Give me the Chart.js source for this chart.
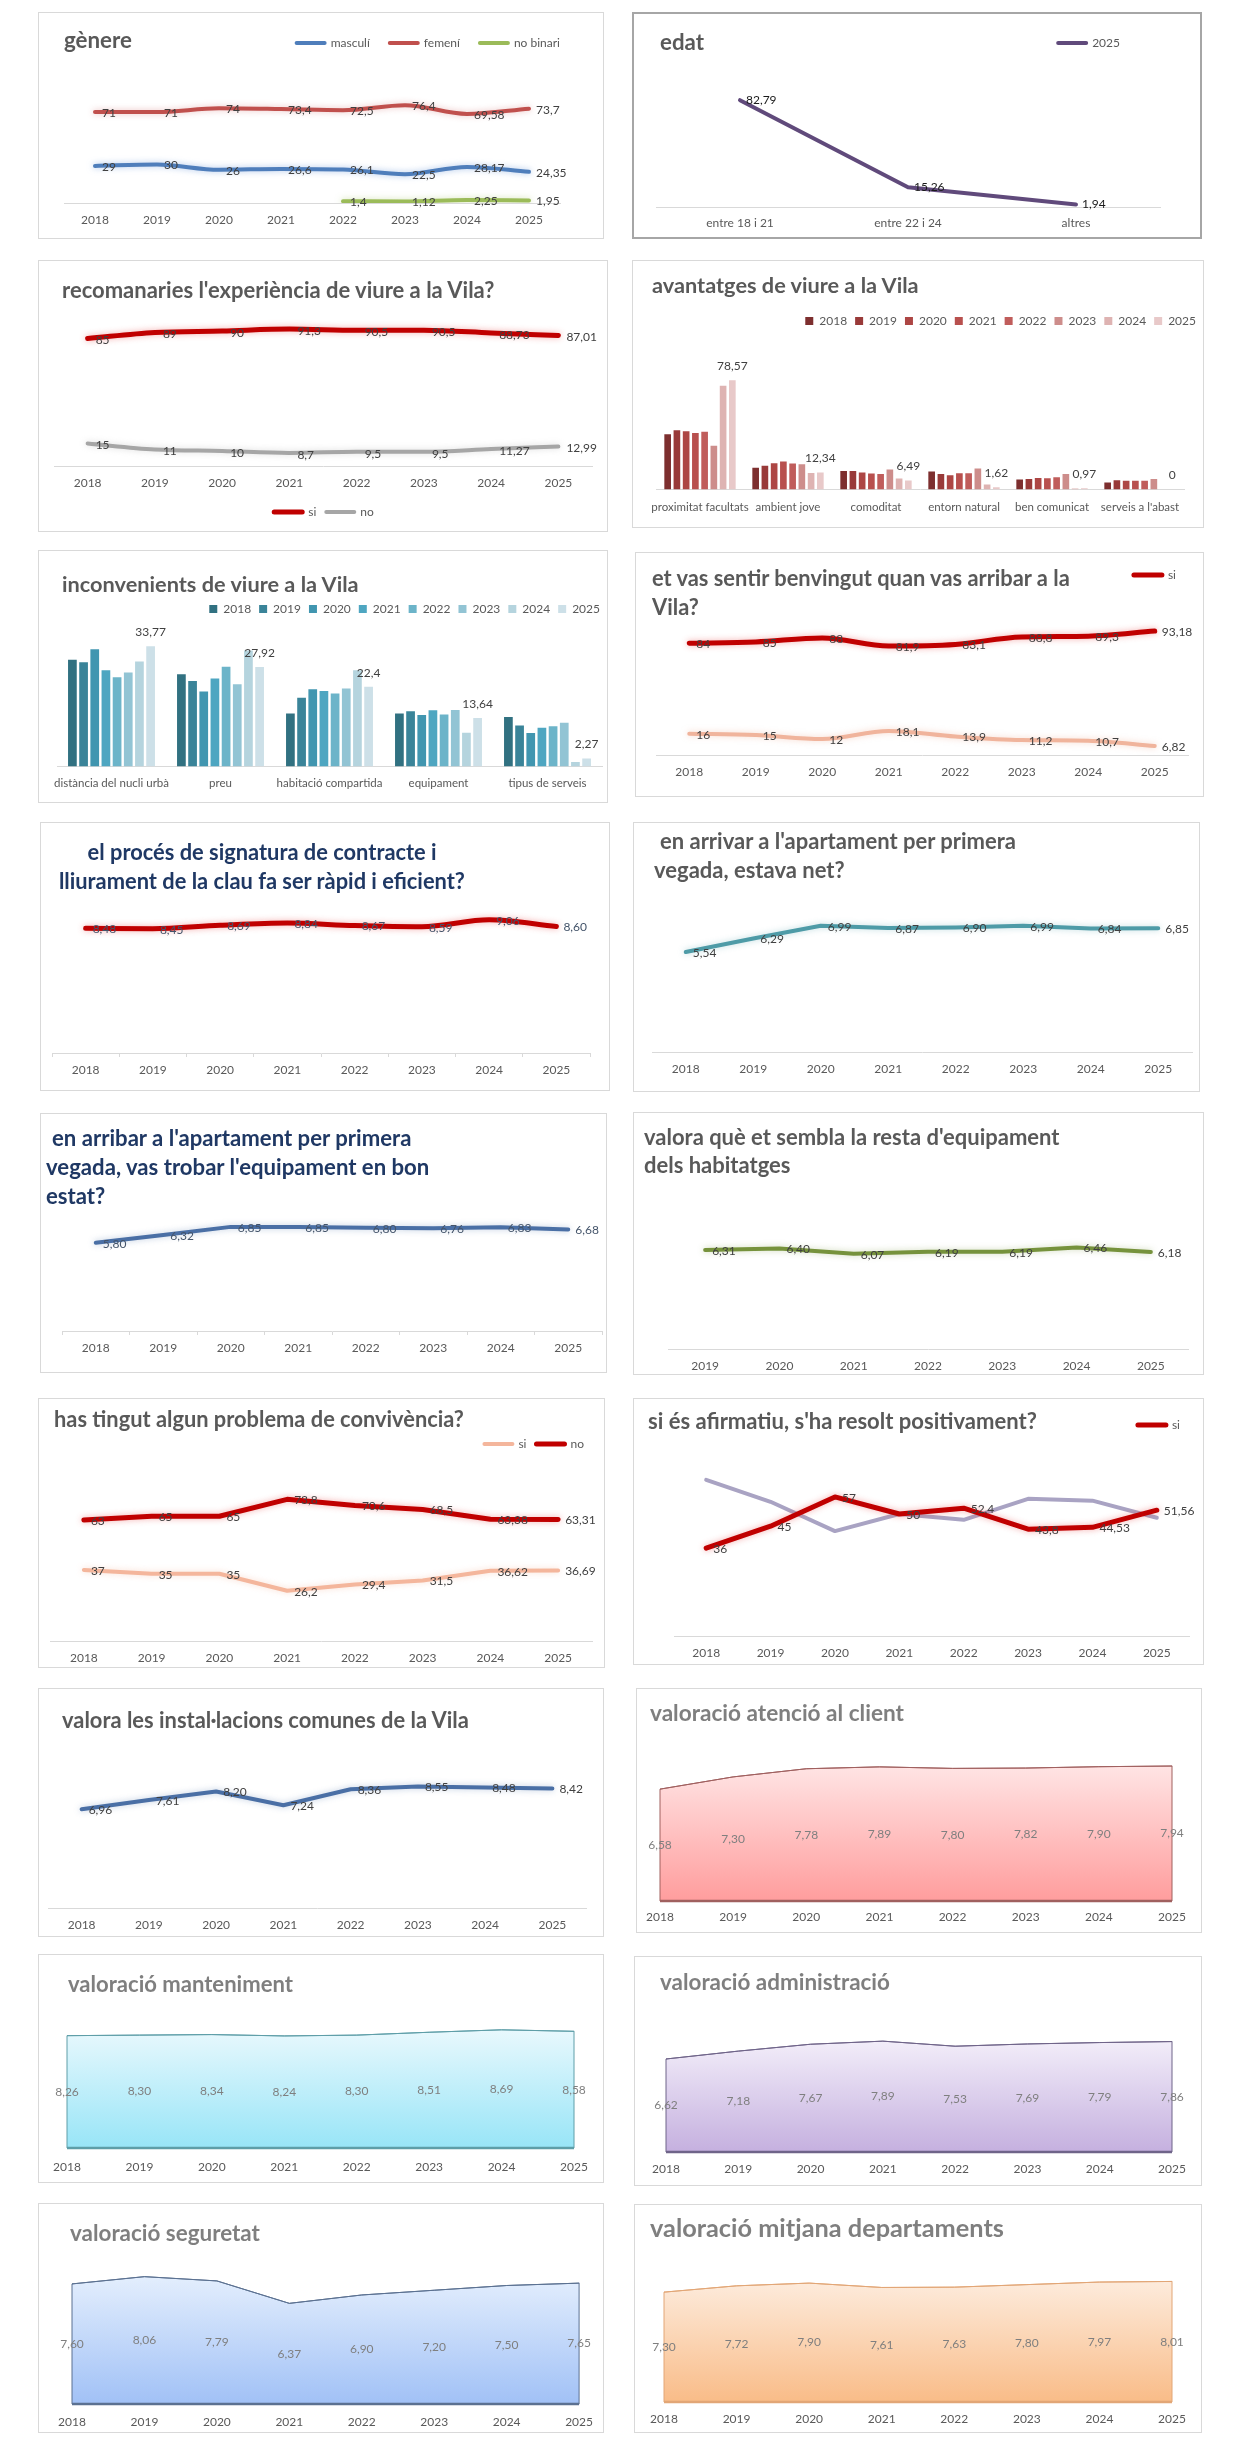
<!DOCTYPE html>
<html><head><meta charset="utf-8">
<script src="https://cdn.jsdelivr.net/npm/chart.js@4.4.1/dist/chart.umd.min.js"></script>
<style>
html,body{margin:0;padding:0;background:#fff;}
body{position:relative;width:1241px;height:2445px;overflow:hidden;font-family:Lato,"Open Sans",sans-serif;}
.panel{position:absolute;box-sizing:border-box;border:1px solid #d9d9d9;background:#fff;}
canvas{position:absolute;}
.ttl{position:absolute;white-space:pre;font-weight:700;font-family:Lato,sans-serif;}
</style></head><body>
<script>
// ---------------- DATA ----------------
const years = ['2018','2019','2020','2021','2022','2023','2024','2025'];
const years19 = ['2019','2020','2021','2022','2023','2024','2025'];

const genereMasculi = [29,30,26,26.6,26.1,22.5,28.17,24.35];
const genereFemeni = [71,71,74,73.4,72.5,76.4,69.58,73.7];
const genereNoBinari = [null,null,null,null,1.4,1.12,2.25,1.95];

const edatCats = ['entre 18 i 21','entre 22 i 24','altres'];
const edat2025 = [82.79,15.26,1.94];

const recomSi = [85,89,90,91.3,90.5,90.5,88.73,87.01];
const recomNo = [15,11,10,8.7,9.5,9.5,11.27,12.99];

const avantCats = ['proximitat facultats','ambient jove','comoditat','entorn natural','ben comunicat',"serveis a l'abast"];
const avant2018 = [39.8,15.7,13.3,13.0,7.2,5.1];
const avant2019 = [42.7,17.1,13.3,11.3,7.7,6.7];
const avant2020 = [41.9,19.0,12.3,10.4,8.4,6.3];
const avant2021 = [40.7,20.2,11.6,11.8,8.2,6.3];
const avant2022 = [41.5,18.8,11.3,11.8,8.9,6.3];
const avant2023 = [31.6,18.3,14.5,15.2,11.3,7.7];
const avant2024 = [74.7,12.0,8.0,3.6,0.8,0];
const avant2025 = [78.57,12.34,6.49,1.62,0.97,0];

const inconvCats = ['distància del nucli urbà','preu','habitació compartida','equipament','tipus de serveis'];
const inconv2018 = [30.0,25.9,14.9,14.9,13.9];
const inconv2019 = [29.3,24.0,19.3,15.5,11.5];
const inconv2020 = [32.9,21.1,21.7,14.5,9.4];
const inconv2021 = [27.0,24.7,21.2,15.8,10.9];
const inconv2022 = [25.1,28.0,20.5,14.6,11.3];
const inconv2023 = [26.4,23.1,21.9,15.9,12.3];
const inconv2024 = [29.5,32.6,27.0,9.5,1.3];
const inconv2025 = [33.77,27.92,22.4,13.64,2.27];

const benvingutSi = [84,85,88,81.9,83.1,88.8,89.3,93.18];
const benvingutNo = [16,15,12,18.1,13.9,11.2,10.7,6.82];

const signatura = [8.48,8.45,8.69,8.84,8.67,8.59,9.06,8.60];
const net = [5.54,6.29,6.99,6.87,6.90,6.99,6.84,6.85];
const bonEstat = [5.80,6.32,6.85,6.85,6.80,6.76,6.83,6.68];
const restaEquip = [6.31,6.40,6.07,6.19,6.19,6.46,6.18];

const convSi = [37,35,35,26.2,29.4,31.5,36.62,36.69];
const convNo = [63,65,65,73.8,70.6,68.5,63.38,63.31];

const resoltSi = [36,45,57,50,52.4,43.8,44.53,51.56];
const resoltNo = [64,55,43,50,47.6,56.2,55.47,48.44];

const instal = [6.96,7.61,8.20,7.24,8.36,8.55,8.48,8.42];
const atencio = [6.58,7.30,7.78,7.89,7.80,7.82,7.90,7.94];
const manteniment = [8.26,8.30,8.34,8.24,8.30,8.51,8.69,8.58];
const administracio = [6.62,7.18,7.67,7.89,7.53,7.69,7.79,7.86];
const seguretat = [7.60,8.06,7.79,6.37,6.90,7.20,7.50,7.65];
const mitjana = [7.30,7.72,7.90,7.61,7.63,7.80,7.97,8.01];

// ---------------- SETUP ----------------
Chart.defaults.font.family = 'Lato, "Open Sans", sans-serif';
Chart.defaults.font.size = 12;
Chart.defaults.color = '#595959';
Chart.defaults.animation = false;

const fmt = (v, dec) => dec == null ? String(v).replace('.', ',') : v.toFixed(dec).replace('.', ',');

const valueLabels = {
  id: 'valueLabels',
  afterDatasetsDraw(chart) {
    const ctx = chart.ctx;
    const y0 = chart.scales.y.getPixelForValue(0);
    chart.data.datasets.forEach((ds, i) => {
      const dl = ds.dl; if (!dl) return;
      const meta = chart.getDatasetMeta(i);
      ctx.save();
      ctx.font = (dl.size || 12) + 'px Lato, sans-serif';
      ctx.fillStyle = dl.color || '#404040';
      ctx.textBaseline = 'middle';
      meta.data.forEach((el, j) => {
        const v = ds.data[j];
        if (v === null || v === undefined) return;
        const t = fmt(v, dl.dec);
        let x = el.x, y = el.y;
        if (dl.pos === 'right') { ctx.textAlign = 'left'; x += (dl.dx ?? 7); y += (dl.dy ?? 0); }
        else if (dl.pos === 'top') { ctx.textAlign = 'center'; y -= (dl.dy ?? 14); }
        else { ctx.textAlign = 'center'; y = (el.y + y0) / 2; }
        ctx.fillText(t, x, y);
      });
      ctx.restore();
    });
  }
};

const glow = {
  id: 'glow',
  beforeDatasetDraw(chart, args) {
    const ds = chart.data.datasets[args.index];
    if (!ds.glow) return;
    chart.ctx.save();
    chart.ctx.shadowColor = ds.glow;
    chart.ctx.shadowBlur = 6;
  },
  afterDatasetDraw(chart, args) {
    const ds = chart.data.datasets[args.index];
    if (!ds.glow) return;
    chart.ctx.restore();
  }
};

const outline = {
  id: 'outline',
  afterDatasetDraw(chart, args) {
    const ds = chart.data.datasets[args.index];
    if (!ds.outline) return;
    const pts = args.meta.data;
    const y0 = chart.scales.y.getPixelForValue(0);
    const ctx = chart.ctx;
    ctx.save();
    ctx.strokeStyle = ds.outline; ctx.lineWidth = 1;
    ctx.beginPath();
    ctx.moveTo(pts[0].x, y0);
    pts.forEach(p => ctx.lineTo(p.x, p.y));
    ctx.lineTo(pts[pts.length - 1].x, y0);
    ctx.stroke();
    ctx.lineWidth = 2.5;
    ctx.beginPath(); ctx.moveTo(pts[0].x, y0); ctx.lineTo(pts[pts.length - 1].x, y0); ctx.stroke();
    ctx.restore();
  }
};

const legendPos = {
  id: 'legendPos',
  afterLayout(chart, args, opts) {
    const lg = chart.legend;
    if (!lg || !lg.options.display || opts.cy == null) return;
    const lp = lg.options.labels.padding;
    let dx = 0;
    if (opts.right != null) dx = opts.right - (lg.right - lp);
    else if (opts.cx != null) dx = opts.cx - (lg.left + lg.right) / 2;
    const dy = opts.cy - (lg.top + lp + opts.ih / 2);
    lg.left += dx; lg.right += dx; lg.top += dy; lg.bottom += dy;
  }
};

const EXTRA = 40; // transparent room below each panel for the axis box

function makeChart(P, o) {
  const div = document.createElement('div');
  div.className = 'panel';
  Object.assign(div.style, {left: P.x + 'px', top: P.y + 'px', width: P.w + 'px', height: P.h + 'px'});
  if (P.border) div.style.border = P.border;
  document.body.appendChild(div);
  const H = P.h + EXTRA;
  const cv = document.createElement('canvas');
  cv.width = P.w; cv.height = H;
  Object.assign(cv.style, {left: P.x + 'px', top: P.y + 'px', width: P.w + 'px', height: H + 'px'});
  document.body.appendChild(cv);

  const lg = o.legend;
  const lp = lg ? (lg.lp ?? 10) : 0;
  const bh = lg ? (lg.bh ?? 0) : 0;
  const ih = Math.max(12, bh);
  const legH = lg ? ih + lp + 10 : 0;
  const tickLen = o.tickLen || 0;
  const axisH = tickLen + 14.4 + 2 * o.pad;
  const topLeg = lg && lg.pos === 'top';
  const chartTop = topLeg ? P.y + legH : (o.top ?? P.y + 40);
  const padTop = topLeg ? 0 : chartTop - P.y;
  const padBottom = P.y + H - o.base - axisH - (lg && lg.pos === 'bottom' ? legH : 0);
  const yMax = (o.base - chartTop) / o.ppu;

  const cfg = {
    type: o.type || 'line',
    data: {labels: o.labels, datasets: o.datasets},
    options: {
      responsive: false, animation: false,
      layout: {padding: {left: o.l - P.x, right: P.x + P.w - o.r, top: padTop, bottom: padBottom}},
      scales: {
        x: {
          offset: o.offset ?? true,
          grid: {display: tickLen > 0, drawOnChartArea: false, drawTicks: tickLen > 0, tickLength: tickLen, color: '#d9d9d9', offset: true},
          border: {display: o.axisLine !== false, color: '#d9d9d9', width: 1},
          ticks: {padding: o.pad, autoSkip: false, maxRotation: 0, minRotation: 0, color: '#595959', font: {size: o.tickSize || 12}}
        },
        y: {display: false, min: 0, max: yMax}
      },
      datasets: {bar: {categoryPercentage: o.catPct || 0.8, barPercentage: o.barPct || 0.8}},
      elements: {point: {radius: 0}, line: {borderCapStyle: 'round', borderJoinStyle: 'round'}},
      plugins: {
        tooltip: {enabled: false},
        legend: lg ? {
          display: true, position: lg.pos, align: lg.align || 'end',
          labels: {boxWidth: lg.bw ?? 28, boxHeight: bh, padding: lp, color: '#595959', font: {size: 12},
                   filter: lg.filter || (() => true)}
        } : {display: false},
        legendPos: lg ? {cy: lg.cy - P.y, right: lg.right != null ? lg.right - P.x : null, cx: lg.cx != null ? lg.cx - P.x : null, ih: ih} : {}
      }
    },
    plugins: [glow, outline, valueLabels, legendPos]
  };
  return new Chart(cv, cfg);
}

function title(lines, color, center) {
  const c = document.createElement('canvas').getContext('2d');
  c.font = '700 20px Lato';
  const fits = lines.filter(L => L.w > 120).map(L => 20 * L.w / c.measureText(L.t).width);
  const fs = fits.length ? fits.reduce((a, b) => a + b, 0) / fits.length : 20 * lines[0].w / c.measureText(lines[0].t).width;
  lines.forEach(L => {
    const d = document.createElement('div');
    d.className = 'ttl';
    d.textContent = L.t;
    d.style.fontSize = fs.toFixed(2) + 'px';
    d.style.lineHeight = (fs * 1.2).toFixed(2) + 'px';
    d.style.top = (L.y - fs * 0.6).toFixed(1) + 'px';
    d.style.color = color;
    if (center != null) {
      c.font = '700 ' + fs + 'px Lato';
      d.style.left = (center - c.measureText(L.t).width / 2).toFixed(1) + 'px';
    } else d.style.left = L.x + 'px';
    document.body.appendChild(d);
  });
}

const lineDs = (label, data, color, w, extra) => Object.assign({label, data, borderColor: color, backgroundColor: color, borderWidth: w, fill: false, pointRadius: 0}, extra || {});
const areaDs = (label, data, top, bot, line) => ({
  label, data, borderColor: line, borderWidth: 1, fill: 'origin', pointRadius: 0, outline: line,
  backgroundColor: (c) => {
    const ch = c.chart;
    if (!ch.chartArea) return bot;
    const ys = ch.scales.y;
    const g = ch.ctx.createLinearGradient(0, ys.getPixelForValue(Math.max(...data)), 0, ys.getPixelForValue(0));
    g.addColorStop(0, top); g.addColorStop(1, bot);
    return g;
  },
  dl: {pos: 'mid', dec: 2, color: '#7f7f7f'}
});
const R = {pos: 'right', dx: 7, dy: 1};
const smooth = {cubicInterpolationMode: 'monotone'};
const RED_GLOW = 'rgba(230,80,80,0.45)';

// 1 gènere
makeChart({x: 38, y: 12, w: 566, h: 227}, {
  labels: years, l: 64, r: 560, base: 203, ppu: 1.28, pad: 10,
  legend: {pos: 'top', cy: 43, right: 560, bw: 28, bh: 0, lp: 20},
  datasets: [
    lineDs('masculí', genereMasculi, '#4f7ebb', 4, Object.assign({glow: 'rgba(120,160,220,0.6)', dl: R}, smooth)),
    lineDs('femení', genereFemeni, '#c0504d', 4, Object.assign({glow: 'rgba(210,120,120,0.45)', dl: R}, smooth)),
    lineDs('no binari', genereNoBinari, '#9bbb59', 4, Object.assign({glow: 'rgba(170,200,110,0.5)', dl: R}, smooth))
  ]
});
title([{t: 'gènere', x: 64, y: 40, w: 68}], '#595959');

// 2 edat
makeChart({x: 632, y: 12, w: 570, h: 227, border: '2px solid #a6a6a6'}, {
  labels: edatCats, l: 656, r: 1160, base: 207, ppu: 1.29, pad: 9,
  legend: {pos: 'top', cy: 43, right: 1120, bw: 28, bh: 0, lp: 10},
  datasets: [lineDs('2025', edat2025, '#604a7b', 4, {dl: {pos: 'right', dx: 6, dy: 0, color: '#1a1a1a'}})]
});
title([{t: 'edat', x: 660, y: 42, w: 44}], '#595959');

// 3 recomanaries
makeChart({x: 38, y: 260, w: 570, h: 272}, {
  labels: years, l: 54, r: 592, base: 466, ppu: 1.5, pad: 10, top: 300,
  legend: {pos: 'bottom', cy: 512, cx: 324, bw: 28, bh: 0, lp: 10, align: 'center'},
  datasets: [
    lineDs('si', recomSi, '#c00000', 5, Object.assign({glow: RED_GLOW, dl: {pos: 'right', dx: 8, dy: 2}}, smooth)),
    lineDs('no', recomNo, '#a6a6a6', 4, Object.assign({glow: 'rgba(180,180,180,0.45)', dl: {pos: 'right', dx: 8, dy: 2}}, smooth))
  ]
});
title([{t: "recomanaries l'experiència de viure a la Vila?", x: 62, y: 290, w: 434}], '#595959');

// 4 avantatges
const redPal = ['#7d2f2f', '#993a39', '#ad4644', '#b8504e', '#c05d5b', '#cd8d8b', '#deb3b2', '#e8c9c9'];
const avantYears = [avant2018, avant2019, avant2020, avant2021, avant2022, avant2023, avant2024, avant2025];
makeChart({x: 632, y: 260, w: 572, h: 268}, {
  type: 'bar', labels: avantCats, l: 656, r: 1184, base: 489, ppu: 1.387, pad: 11, tickSize: 11.5,
  catPct: 0.84, barPct: 0.72,
  legend: {pos: 'top', cy: 321, right: 1196, bw: 8, bh: 8, lp: 8},
  datasets: avantYears.map((d, i) => ({label: years[i], data: d, backgroundColor: redPal[i], borderWidth: 0,
    dl: i === 7 ? {pos: 'top', dy: 14, color: '#404040'} : null}))
});
title([{t: 'avantatges de viure a la Vila', x: 652, y: 285, w: 268}], '#595959');

// 5 inconvenients
const tealPal = ['#317181', '#3a8499', '#4196b0', '#4ea6c1', '#6cb4c9', '#92c4d4', '#b5d4de', '#cde0e8'];
const inconvYears = [inconv2018, inconv2019, inconv2020, inconv2021, inconv2022, inconv2023, inconv2024, inconv2025];
makeChart({x: 38, y: 550, w: 570, h: 253}, {
  type: 'bar', labels: inconvCats, l: 57, r: 602, base: 766, ppu: 3.553, pad: 10, tickSize: 11.5,
  catPct: 0.82, barPct: 0.78,
  legend: {pos: 'top', cy: 609, right: 600, bw: 8, bh: 8, lp: 8},
  datasets: inconvYears.map((d, i) => ({label: years[i], data: d, backgroundColor: tealPal[i], borderWidth: 0,
    dl: i === 7 ? {pos: 'top', dy: 14, color: '#404040'} : null}))
});
title([{t: 'inconvenients de viure a la Vila', x: 62, y: 584, w: 298}], '#595959');

// 6 benvingut
makeChart({x: 635, y: 552, w: 569, h: 245}, {
  labels: years, l: 656, r: 1188, base: 755, ppu: 1.33, pad: 10,
  legend: {pos: 'top', cy: 575, right: 1176, bw: 28, bh: 0, lp: 10, filter: (it) => it.datasetIndex === 0},
  datasets: [
    lineDs('si', benvingutSi, '#c00000', 5, Object.assign({glow: RED_GLOW, dl: R}, smooth)),
    lineDs('no', benvingutNo, '#f0b49c', 4, Object.assign({glow: 'rgba(240,180,156,0.5)', dl: R}, smooth))
  ]
});
title([{t: 'et vas sentir benvingut quan vas arribar a la', x: 652, y: 578, w: 420}, {t: 'Vila?', x: 652, y: 607, w: 48}], '#595959');

// 7 signatura
makeChart({x: 40, y: 822, w: 570, h: 269}, {
  labels: years, l: 52, r: 590, base: 1053, ppu: 14.7, pad: 6, tickLen: 4,
  datasets: [lineDs('signatura', signatura, '#c00000', 5, Object.assign({glow: RED_GLOW, dl: {pos: 'right', dx: 7, dy: 1, dec: 2, color: '#44546a'}}, smooth))]
});
title([{t: 'el procés de signatura de contracte i', x: 90, y: 852, w: 346}, {t: 'lliurament de la clau fa ser ràpid i eficient?', x: 56, y: 881, w: 410}], '#1f3864', 262);

// 8 net
makeChart({x: 633, y: 822, w: 567, h: 270}, {
  labels: years, l: 652, r: 1192, base: 1052, ppu: 18.05, pad: 10,
  datasets: [lineDs('net', net, '#4e9ba7', 4, {glow: 'rgba(78,155,167,0.35)', dl: {pos: 'right', dx: 7, dy: 1, dec: 2}})]
});
title([{t: "en arrivar a l'apartament per primera", x: 660, y: 841, w: 358}, {t: 'vegada, estava net?', x: 654, y: 870, w: 190}], '#595959');

// 9 bon estat
makeChart({x: 40, y: 1113, w: 567, h: 260}, {
  labels: years, l: 62, r: 602, base: 1331, ppu: 15.2, pad: 6, tickLen: 4,
  datasets: [lineDs('equipament', bonEstat, '#4a6fa5', 4, {glow: 'rgba(74,111,165,0.35)', dl: {pos: 'right', dx: 7, dy: 1, dec: 2, color: '#44546a'}})]
});
title([{t: "en arribar a l'apartament per primera", x: 52, y: 1138, w: 361}, {t: "vegada, vas trobar l'equipament en bon", x: 46, y: 1167, w: 384}, {t: 'estat?', x: 46, y: 1196, w: 58}], '#1f3864');

// 10 resta d'equipament
makeChart({x: 633, y: 1112, w: 571, h: 263}, {
  labels: years19, l: 668, r: 1188, base: 1349, ppu: 15.7, pad: 10,
  datasets: [lineDs('equipament', restaEquip, '#76923c', 4, {glow: 'rgba(118,146,60,0.35)', dl: {pos: 'right', dx: 7, dy: 1, dec: 2}})]
});
title([{t: "valora què et sembla la resta d'equipament", x: 644, y: 1137, w: 417}, {t: 'dels habitatges', x: 644, y: 1165, w: 146}], '#595959');

// 11 convivència
makeChart({x: 38, y: 1398, w: 567, h: 270}, {
  labels: years, l: 50, r: 592, base: 1641, ppu: 1.92, pad: 10,
  legend: {pos: 'top', cy: 1444, right: 584, bw: 28, bh: 0, lp: 10},
  datasets: [
    lineDs('si', convSi, '#f4b69c', 4, {glow: 'rgba(244,182,156,0.45)', dl: R}),
    lineDs('no', convNo, '#c00000', 5, {glow: RED_GLOW, dl: R})
  ]
});
title([{t: 'has tingut algun problema de convivència?', x: 54, y: 1419, w: 410}], '#595959');

// 12 resolt positivament
makeChart({x: 633, y: 1398, w: 571, h: 267}, {
  labels: years, l: 674, r: 1189, base: 1636, ppu: 2.44, pad: 10,
  legend: {pos: 'top', cy: 1425, right: 1180, bw: 28, bh: 0, lp: 10, filter: (it) => it.datasetIndex === 0},
  datasets: [
    lineDs('si', resoltSi, '#c00000', 5, {glow: RED_GLOW, dl: R}),
    lineDs('no', resoltNo, '#a9a3c3', 4)
  ]
});
title([{t: "si és afirmatiu, s'ha resolt positivament?", x: 648, y: 1421, w: 389}], '#595959');

// 13 instal·lacions
makeChart({x: 38, y: 1688, w: 566, h: 249}, {
  labels: years, l: 48, r: 586, base: 1908, ppu: 14.2, pad: 10,
  datasets: [lineDs('instal·lacions', instal, '#4a6fa5', 4, {glow: 'rgba(74,111,165,0.35)', dl: {pos: 'right', dx: 7, dy: 1, dec: 2}})]
});
title([{t: 'valora les instal·lacions comunes de la Vila', x: 62, y: 1720, w: 408}], '#595959');

// 14 atenció al client
makeChart({x: 636, y: 1688, w: 566, h: 245}, {
  labels: years, l: 660, r: 1172, base: 1901, ppu: 17.0, pad: 9, offset: false, axisLine: false,
  datasets: [areaDs('atenció al client', atencio, '#ffe4e4', '#ff9d9d', '#a0605f')]
});
title([{t: 'valoració atenció al client', x: 650, y: 1713, w: 254}], '#7f7f7f');

// 15 manteniment
makeChart({x: 38, y: 1954, w: 566, h: 229}, {
  labels: years, l: 67, r: 574, base: 2148, ppu: 13.6, pad: 12, offset: false, axisLine: false,
  datasets: [areaDs('manteniment', manteniment, '#e8f8fd', '#98e5f7', '#5e9ea8')]
});
title([{t: 'valoració manteniment', x: 68, y: 1984, w: 225}], '#7f7f7f');

// 16 administració
makeChart({x: 634, y: 1956, w: 568, h: 230}, {
  labels: years, l: 666, r: 1172, base: 2152, ppu: 14.05, pad: 10, offset: false, axisLine: false,
  datasets: [areaDs('administració', administracio, '#f2edf9', '#c5b0df', '#6f6489')]
});
title([{t: 'valoració administració', x: 660, y: 1982, w: 230}], '#7f7f7f');

// 17 seguretat
makeChart({x: 38, y: 2203, w: 566, h: 230}, {
  labels: years, l: 72, r: 580, base: 2404, ppu: 15.8, pad: 11, offset: false, axisLine: false,
  datasets: [areaDs('seguretat', seguretat, '#e3eefd', '#a1c1f6', '#5b7191')]
});
title([{t: 'valoració seguretat', x: 70, y: 2233, w: 190}], '#7f7f7f');

// 18 mitjana departaments
makeChart({x: 634, y: 2204, w: 568, h: 229}, {
  labels: years, l: 664, r: 1172, base: 2402, ppu: 15.05, pad: 10, offset: false, axisLine: false,
  datasets: [areaDs('mitjana', mitjana, '#fdebdc', '#f9bc88', '#e2a676')]
});
title([{t: 'valoració mitjana departaments', x: 650, y: 2227, w: 354}], '#7f7f7f');
</script>
</body></html>
